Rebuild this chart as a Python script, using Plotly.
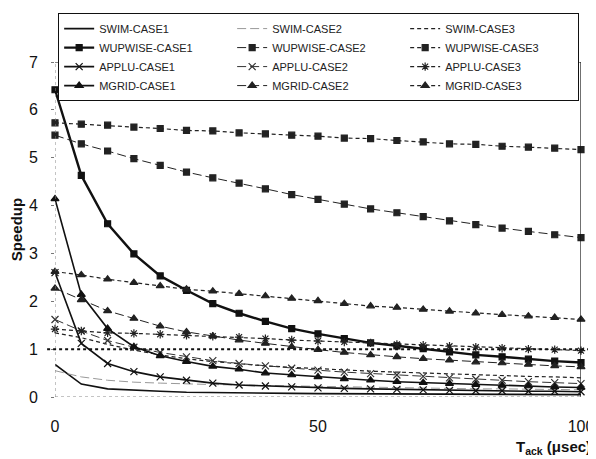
import plotly.graph_objects as go

x_vals = list(range(0, 101, 5))

swim1 = [0.68, 0.27, 0.17, 0.14, 0.12, 0.10, 0.09, 0.085, 0.08, 0.075, 0.07, 0.068, 0.065, 0.063, 0.06, 0.058, 0.056, 0.054, 0.052, 0.05, 0.05]
swim2 = [0.55, 0.42, 0.35, 0.31, 0.29, 0.27, 0.26, 0.25, 0.24, 0.23, 0.22, 0.21, 0.20, 0.19, 0.19, 0.18, 0.17, 0.17, 0.16, 0.16, 0.15]
swim3 = [1.34, 1.24, 1.10, 0.98, 0.88, 0.80, 0.74, 0.69, 0.65, 0.62, 0.59, 0.56, 0.54, 0.52, 0.50, 0.48, 0.46, 0.45, 0.43, 0.42, 0.40]
wup1 = [6.42, 4.63, 3.62, 2.99, 2.53, 2.23, 1.95, 1.75, 1.58, 1.43, 1.32, 1.22, 1.13, 1.07, 1.01, 0.94, 0.88, 0.84, 0.79, 0.75, 0.72]
wup2 = [5.47, 5.29, 5.14, 4.98, 4.84, 4.70, 4.58, 4.47, 4.35, 4.23, 4.13, 4.03, 3.93, 3.85, 3.77, 3.68, 3.60, 3.53, 3.46, 3.39, 3.33]
wup3 = [5.73, 5.70, 5.68, 5.64, 5.61, 5.57, 5.56, 5.52, 5.50, 5.47, 5.45, 5.41, 5.40, 5.36, 5.33, 5.29, 5.28, 5.24, 5.22, 5.20, 5.17]
applu1 = [2.60, 1.12, 0.70, 0.53, 0.42, 0.35, 0.29, 0.25, 0.23, 0.21, 0.19, 0.18, 0.17, 0.16, 0.15, 0.14, 0.13, 0.13, 0.12, 0.12, 0.11]
applu2 = [1.62, 1.38, 1.18, 1.04, 0.93, 0.84, 0.76, 0.70, 0.65, 0.60, 0.56, 0.52, 0.49, 0.46, 0.43, 0.40, 0.37, 0.35, 0.32, 0.30, 0.28]
applu3 = [1.42, 1.38, 1.34, 1.33, 1.31, 1.29, 1.27, 1.25, 1.22, 1.19, 1.17, 1.15, 1.13, 1.10, 1.08, 1.06, 1.04, 1.02, 1.00, 0.99, 0.97]
mgrid1 = [4.14, 2.14, 1.43, 1.05, 0.86, 0.74, 0.64, 0.58, 0.50, 0.46, 0.42, 0.38, 0.35, 0.32, 0.30, 0.28, 0.26, 0.24, 0.23, 0.21, 0.20]
mgrid2 = [2.27, 2.03, 1.80, 1.64, 1.48, 1.36, 1.27, 1.19, 1.12, 1.05, 0.99, 0.93, 0.88, 0.84, 0.80, 0.77, 0.73, 0.71, 0.68, 0.65, 0.63]
mgrid3 = [2.62, 2.55, 2.46, 2.39, 2.32, 2.25, 2.21, 2.16, 2.11, 2.06, 2.01, 1.95, 1.90, 1.87, 1.83, 1.79, 1.75, 1.72, 1.69, 1.66, 1.62]

y_ticks = [0, 1, 2, 3, 4, 5, 6, 7]
x_ticks = [0, 50, 100]

DASH2 = "9px,4px"
DASH3 = "4px,3px"

series = [
    ("SWIM-CASE1", swim1, "solid", 1.6, "#111", None),
    ("SWIM-CASE2", swim2, DASH2, 1.0, "#999", None),
    ("SWIM-CASE3", swim3, DASH3, 1.2, "#222", None),
    ("WUPWISE-CASE1", wup1, "solid", 2.4, "#111", "square"),
    ("WUPWISE-CASE2", wup2, DASH2, 1.0, "#222", "square"),
    ("WUPWISE-CASE3", wup3, DASH3, 1.2, "#222", "square"),
    ("APPLU-CASE1", applu1, "solid", 1.6, "#111", "x-thin"),
    ("APPLU-CASE2", applu2, DASH2, 1.0, "#333", "x-thin"),
    ("APPLU-CASE3", applu3, DASH3, 1.2, "#222", "asterisk"),
    ("MGRID-CASE1", mgrid1, "solid", 1.6, "#111", "triangle-up"),
    ("MGRID-CASE2", mgrid2, DASH2, 1.0, "#222", "triangle-up"),
    ("MGRID-CASE3", mgrid3, DASH3, 1.2, "#222", "triangle-up"),
]

fig = go.Figure()
for name, ys, dash, w, col, sym in series:
    kw = dict(mode="lines")
    if sym:
        kw["mode"] = "lines+markers"
        size = 6 if sym == "square" else 7
        kw["marker"] = dict(symbol=sym, size=size, color=col,
                            line=dict(color=col, width=1.2))
    fig.add_trace(go.Scatter(x=x_vals, y=ys, name=name,
                             line=dict(color=col, width=w, dash=dash),
                             cliponaxis=False, **kw))

shapes = [
    dict(type="line", xref="x", yref="y", x0=0, x1=0, y0=0, y1=7,
         line=dict(color="#888", width=1, dash="dot")),
    dict(type="line", xref="x", yref="y", x0=0, x1=100, y0=0, y1=0,
         line=dict(color="#888", width=1, dash="dot")),
    dict(type="line", xref="x", yref="y", x0=100, x1=100, y0=0, y1=7,
         line=dict(color="#111", width=1.2)),
    dict(type="line", xref="x", yref="y", x0=0, x1=100, y0=7, y1=7,
         line=dict(color="#111", width=1.2)),
    dict(type="line", xref="paper", yref="y", x0=-0.015, x1=1.018, y0=1, y1=1,
         line=dict(color="#111", width=2, dash="dot")),
]

# page body has an 8px margin, so the figure is 8px smaller than the window
fig.update_layout(
    width=588, height=451,
    margin=dict(l=47, r=15, t=54, b=62, autoexpand=False),
    paper_bgcolor="white", plot_bgcolor="white",
    font=dict(family="Liberation Sans, Arial, sans-serif", color="#111"),
    shapes=shapes,
    showlegend=True,
    legend=dict(orientation="h", x=0.006, y=1.146, xanchor="left", yanchor="top",
                entrywidth=128, entrywidthmode="pixels",
                bgcolor="white", bordercolor="#111", borderwidth=1,
                font=dict(size=11, color="#222"), tracegroupgap=0,
                itemwidth=30),
    xaxis=dict(range=[0, 100], tickvals=x_ticks, showgrid=False, zeroline=False,
               showline=False, ticks="", ticklabelstandoff=18,
               tickfont=dict(size=16)),
    yaxis=dict(range=[0, 7], tickvals=y_ticks, showgrid=False, zeroline=False,
               showline=False, ticks="outside", ticklen=3, tickcolor="#777",
               ticklabelstandoff=10, tickfont=dict(size=16),
               title=dict(text="<b>Speedup</b>", font=dict(size=15), standoff=8)),
    annotations=[
        dict(text="<b>T<sub>ack</sub> (μsec)</b>", xref="paper", yref="paper",
             x=1.023, y=-0.15, xanchor="right", yanchor="middle",
             showarrow=False, font=dict(size=15)),
    ],
)

fig.write_html("out.html")
